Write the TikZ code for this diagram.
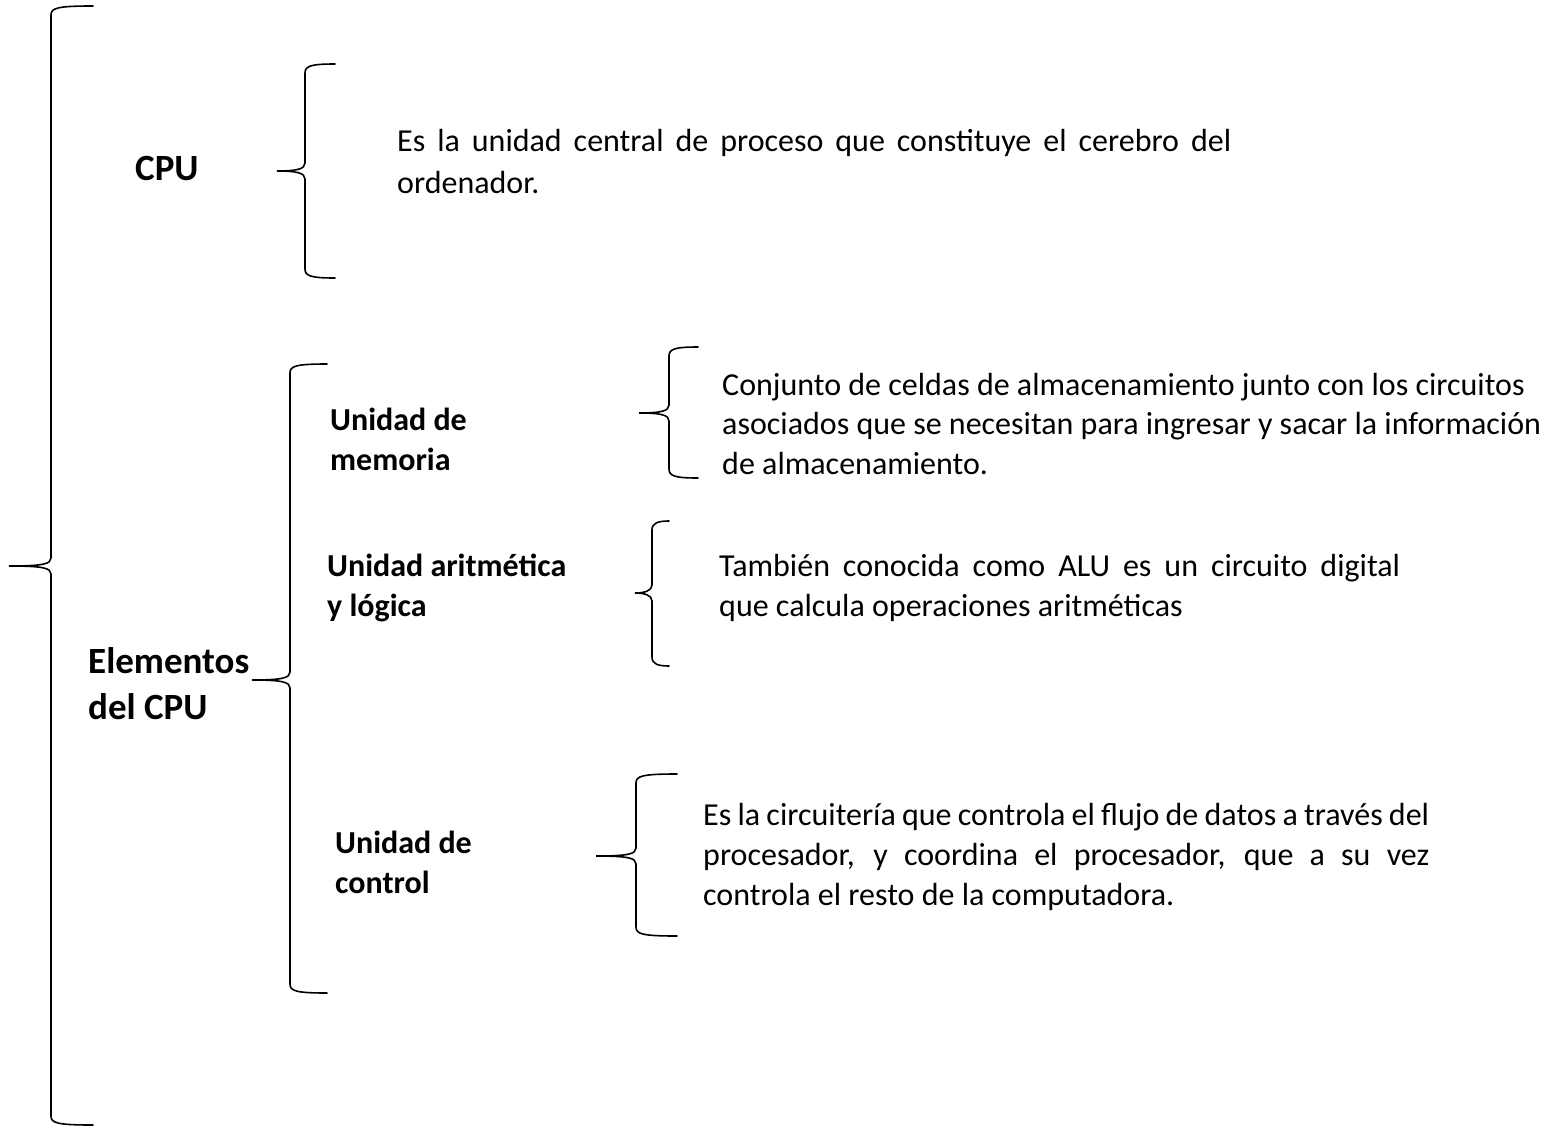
\documentclass[tikz,border=0pt]{standalone}
\usepackage{fontspec}
\setmainfont{Carlito}
\usepackage{tikz}

% left curly brace: x, top, middle, bottom, tip x, end x
\newcommand{\wordbrace}[6]{%
  \draw[brace line] (#6,#2) .. controls (#1+6,#2) and (#1,#2+2) .. (#1,#2+9)
    -- (#1,#3-8) .. controls (#1,#3-2) and (#1-8,#3) .. (#5,#3)
    .. controls (#1-8,#3) and (#1,#3+2) .. (#1,#3+8)
    -- (#1,#4-9) .. controls (#1,#4-2) and (#1+6,#4) .. (#6,#4);}

\begin{document}
\begin{tikzpicture}[x=1pt,y=-1pt,
  brace line/.style={line width=1.6pt,line cap=round},
  title node/.style={font=\fontsize{37}{46}\selectfont\bfseries,align=left,anchor=base west,inner sep=0pt},
  unit node/.style={font=\fontsize{32}{40}\selectfont\bfseries,align=left,anchor=base west,inner sep=0pt},
  desc node/.style={font=\fontsize{32}{40}\selectfont,anchor=base west,inner sep=0pt}]

\useasboundingbox (0,0) rectangle (1566,1127);

% braces
\wordbrace{51}{6}{566}{1125}{9}{93}
\wordbrace{305}{64}{171}{278}{277}{335}
\wordbrace{290}{364}{680}{993}{252}{327}
\wordbrace{669}{347}{413}{478}{639}{698}
\wordbrace{652}{521}{593}{666}{635}{669}
\wordbrace{636}{774}{856}{936}{596}{677}

% labels (base = last line)
\node[title node] (cpu) at (135,180) {CPU};
\node[title node] (elementos) at (88,719) {Elementos\\del CPU};
\node[unit node] (memoria) at (330,470) {Unidad de\\memoria};
\node[unit node] (alu) at (327,616) {Unidad aritmética\\y lógica};
\node[unit node] (control) at (335,893) {Unidad de\\control};

% descriptions (text width: base = first line)
\node[desc node,text width=834pt,align=justify,font=\fontsize{32}{42}\selectfont] (cpudesc) at (397,151)
  {Es la unidad central de proceso que constituye el cerebro del\linebreak ordenador.};
\node[desc node,align=left,font=\fontsize{32}{39.5}\selectfont] (memdesc) at (722,474)
  {Conjunto de celdas de almacenamiento junto con los circuitos\\asociados que se necesitan para ingresar y sacar la información\\de almacenamiento.};
\node[desc node,text width=681pt,align=justify] (aludesc) at (719,576)
  {También conocida como ALU es un circuito digital\linebreak que calcula operaciones aritméticas};
\node[desc node,text width=726pt,align=justify] (controldesc) at (703,825)
  {Es la circuitería que controla el flujo de datos a través del\linebreak procesador, y coordina el procesador, que a su vez\linebreak controla el resto de la computadora.};

\end{tikzpicture}
\end{document}
